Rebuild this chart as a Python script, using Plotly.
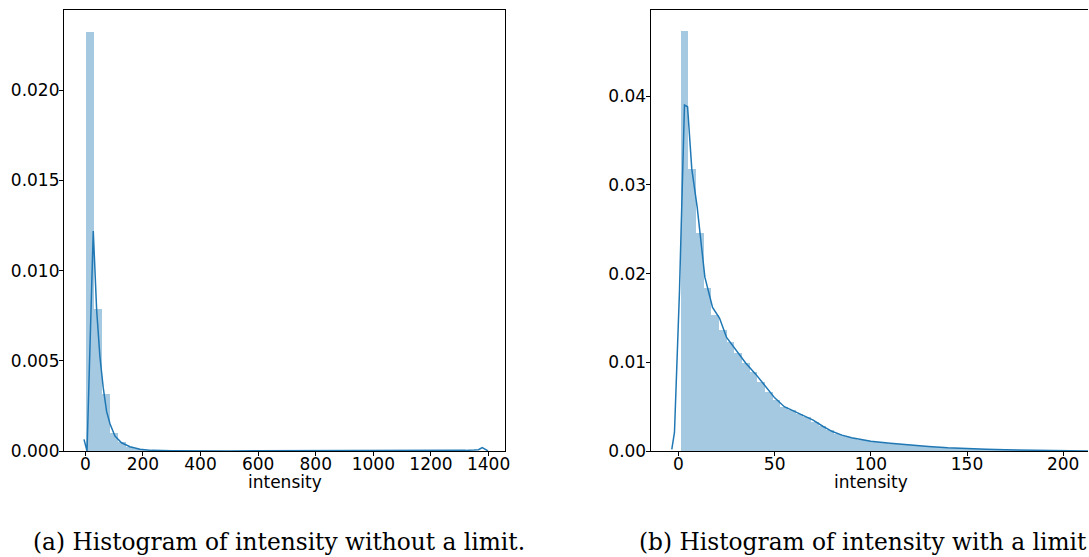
import plotly.graph_objects as go

# ---------------- data ----------------
# (a) without limit: 50 bins starting at 2.0, width 27.7
left_bin_start = 2.0
left_bin_width = 27.7
left_density = [0.0232, 0.00785, 0.00318, 0.00102, 0.00052, 0.0002, 0.0001, 0.00005, 0.00003, 0.00002,
                0.00001, 0.00001, 0, 0, 0, 0, 0, 0, 0, 0,
                0, 0, 0, 0, 0, 0, 0, 0, 0, 0,
                0, 0, 0, 0, 0, 0, 0, 0, 0, 0,
                0, 0, 0, 0, 0, 0, 0.00001, 0.00001, 0.00002, 0.00003]
left_kde_x = [-4.4, 6, 27.7, 39.5, 51, 62.4, 74, 86, 103, 126, 155, 190, 230, 300, 500, 800,
              1100, 1250, 1320, 1350, 1365, 1378, 1388, 1398]
left_kde_y = [0.00065, 0.0, 0.0122, 0.0078, 0.0052, 0.0035, 0.0022, 0.0015, 0.00083, 0.00046,
              0.00024, 0.0001, 0.00004, 0.00002, 0.00001, 0.00001, 0.00001, 0.00002, 0.00004,
              0.00006, 0.00008, 0.0002, 0.00008, 0.00001]
left_xticks = [0, 200, 400, 600, 800, 1000, 1200, 1400]
left_yticks = [0.0, 0.005, 0.010, 0.015, 0.020]
left_ytick_text = ["0.000", "0.005", "0.010", "0.015", "0.020"]

# (b) with limit: 50 bins starting at 1.0, width 3.98
right_bin_start = 1.0
right_bin_width = 3.98
right_density = [0.04735, 0.03175, 0.02455, 0.01834, 0.01529, 0.01367, 0.01232, 0.01107, 0.00994, 0.00896,
                 0.00783, 0.0067, 0.00576, 0.00497, 0.0046, 0.00415, 0.00384, 0.00328, 0.00282, 0.00237,
                 0.00196, 0.0017, 0.00147, 0.00128, 0.00113, 0.00102, 0.00092, 0.00085, 0.00078, 0.00072,
                 0.00066, 0.0006, 0.00052, 0.00045, 0.0004, 0.00035, 0.00031, 0.00027, 0.00025, 0.00022,
                 0.0002, 0.00018, 0.00016, 0.00015, 0.00013, 0.00012, 0.0001, 0.0001, 0.00009, 0.00008]
right_kde_x = [-3.5, -2.1, 0.5, 3.1, 4.7, 6.9, 9.7, 13.7, 17.7, 21.3, 25, 30, 35, 40, 45, 50, 55, 60,
               65, 70, 75, 80, 85, 90, 95, 100, 110, 120, 130, 140, 150, 160, 170, 180, 190, 200, 210, 213]
right_kde_y = [0.0002, 0.0021, 0.018, 0.039, 0.0388, 0.0318, 0.0275, 0.0196, 0.0162, 0.0150, 0.0128,
               0.0113, 0.0099, 0.0087, 0.0074, 0.0060, 0.0050, 0.0045, 0.0040, 0.0035, 0.0028, 0.0022,
               0.0018, 0.0015, 0.0013, 0.0011, 0.00088, 0.00068, 0.00052, 0.00038, 0.00027, 0.0002,
               0.00015, 0.00012, 0.0001, 0.00007, 0.00003, 0.00001]
right_xticks = [0, 50, 100, 150, 200]
right_yticks = [0.0, 0.01, 0.02, 0.03, 0.04]
right_ytick_text = ["0.00", "0.01", "0.02", "0.03", "0.04"]

captions = ["(a) Histogram of intensity without a limit.", "(b) Histogram of intensity with a limit"]
axis_label = "intensity"

# ---------------- figure ----------------
BAR = "rgba(31,119,180,0.4)"
LINE = "#1f77b4"
TICKFONT = dict(family="DejaVu Sans", size=17, color="black")

left_centers = [left_bin_start + left_bin_width * (i + 0.5) for i in range(len(left_density))]
right_centers = [right_bin_start + right_bin_width * (i + 0.5) for i in range(len(right_density))]

fig = go.Figure()
fig.add_trace(go.Bar(x=left_centers, y=left_density, width=left_bin_width, marker=dict(color=BAR, line=dict(width=0)),
                     xaxis="x", yaxis="y", showlegend=False))
fig.add_trace(go.Scatter(x=left_kde_x, y=left_kde_y, mode="lines", line=dict(color=LINE, width=1.5),
                         xaxis="x", yaxis="y", showlegend=False))
fig.add_trace(go.Bar(x=right_centers, y=right_density, width=right_bin_width, marker=dict(color=BAR, line=dict(width=0)),
                     xaxis="x2", yaxis="y2", showlegend=False))
fig.add_trace(go.Scatter(x=right_kde_x, y=right_kde_y, mode="lines", line=dict(color=LINE, width=1.5),
                         xaxis="x2", yaxis="y2", showlegend=False))

# page size and observed screenshot scale factors (picture px = page px * s)
W, H = 1093, 568
SX, SY = 0.996, 0.98
def px_x(p): return (p / SX) / W          # p given in target picture pixels
def px_y(p): return 1 - (p / SY) / H

axis_common = dict(showgrid=False, zeroline=False, showline=True, linecolor="black", linewidth=1.1,
                   ticks="outside", ticklen=4, tickwidth=1.1, tickcolor="black", tickfont=TICKFONT)

fig.update_layout(
    width=W, height=H, margin=dict(l=0, r=0, t=0, b=0),
    paper_bgcolor="white", plot_bgcolor="white", barmode="overlay", bargap=0,
    xaxis=dict(domain=[px_x(64), px_x(505)], range=[-74, 1456], tickvals=left_xticks, mirror=True,
               anchor="y", ticklabelstandoff=-7, **axis_common),
    yaxis=dict(domain=[px_y(450), px_y(10)], range=[0, 0.02444], tickvals=left_yticks, ticktext=left_ytick_text,
               mirror=True, anchor="x", ticklabelstandoff=-4, **axis_common),
    xaxis2=dict(domain=[px_x(651), 1.0], range=[-14.5, 212.9], tickvals=right_xticks, mirror=True,
                anchor="y2", ticklabelstandoff=-7, **axis_common),
    yaxis2=dict(domain=[px_y(450), px_y(10)], range=[0, 0.0497], tickvals=right_yticks, ticktext=right_ytick_text,
                mirror=False, anchor="x2", ticklabelstandoff=-4, **axis_common),
)

annos = [
    dict(text=axis_label, x=px_x(285), y=px_y(481), xref="paper", yref="paper", showarrow=False,
         font=dict(family="DejaVu Sans", size=17, color="black"), xanchor="center", yanchor="middle"),
    dict(text=axis_label, x=px_x(872), y=px_y(481), xref="paper", yref="paper", showarrow=False,
         font=dict(family="DejaVu Sans", size=17, color="black"), xanchor="center", yanchor="middle"),
    dict(text=captions[0], x=px_x(279), y=px_y(540), xref="paper", yref="paper", showarrow=False,
         font=dict(family="DejaVu Serif", size=23.3, color="black"), xanchor="center", yanchor="middle"),
    dict(text=captions[1], x=px_x(863), y=px_y(540), xref="paper", yref="paper", showarrow=False,
         font=dict(family="DejaVu Serif", size=23.3, color="black"), xanchor="center", yanchor="middle"),
]
fig.update_layout(annotations=annos)

fig.write_html("out.html")
